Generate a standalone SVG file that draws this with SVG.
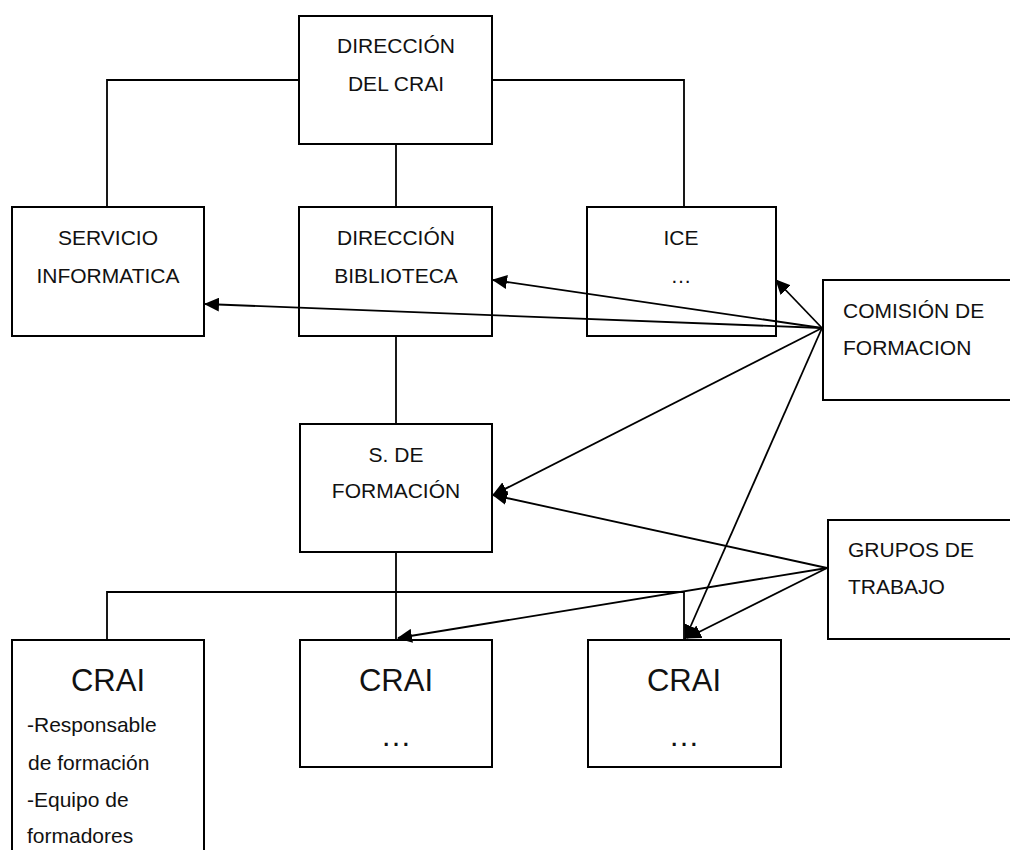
<svg xmlns="http://www.w3.org/2000/svg" width="1010" height="850" viewBox="0 0 1010 850">
<style>
.box{fill:none;stroke:#000;stroke-width:2}
.ln{fill:none;stroke:#000;stroke-width:1.8}
.ar{fill:none;stroke:#000;stroke-width:1.8;marker-end:url(#ah)}
text{font-family:"Liberation Sans",Arial,sans-serif;font-size:21px;fill:#111}
.c{text-anchor:middle}
.big{font-size:31px}
</style>
<defs>
<marker id="ah" viewBox="0 0 15 14" refX="14" refY="7" markerWidth="15" markerHeight="14" markerUnits="userSpaceOnUse" orient="auto">
<path d="M0,0 L15,7 L0,14 Z" fill="#000"/>
</marker>
</defs>
<rect width="1010" height="850" fill="#fff"/>
<g id="connectors">
<polyline class="ln" points="107,207 107,80 299,80"/>
<polyline class="ln" points="492,80 684,80 684,207"/>
<line class="ln" x1="396" y1="144" x2="396" y2="207"/>
<line class="ln" x1="396" y1="336" x2="396" y2="424"/>
<line class="ln" x1="396" y1="552" x2="396" y2="640"/>
<polyline class="ln" points="107,640 107,592 684,592 684,640"/>
<line class="ar" x1="822" y1="328" x2="205" y2="304"/>
<line class="ar" x1="822" y1="328" x2="493" y2="280"/>
<line class="ar" x1="822" y1="328" x2="776" y2="280"/>
<line class="ar" x1="822" y1="328" x2="493" y2="495"/>
<line class="ar" x1="822" y1="328" x2="685" y2="639"/>
<line class="ar" x1="827" y1="568" x2="493" y2="495"/>
<line class="ar" x1="827" y1="568" x2="398" y2="638"/>
<line class="ar" x1="827" y1="568" x2="687" y2="638"/>
</g>
<g id="direccion-crai">
<rect class="box" x="299" y="16" width="193" height="128"/>
<text class="c" x="396" y="53">DIRECCIÓN</text>
<text class="c" x="396" y="91">DEL CRAI</text>
</g>
<g id="servicio-informatica">
<rect class="box" x="12" y="207" width="192" height="129"/>
<text class="c" x="108" y="245">SERVICIO</text>
<text class="c" x="108" y="283">INFORMATICA</text>
</g>
<g id="direccion-biblioteca">
<rect class="box" x="299" y="207" width="193" height="129"/>
<text class="c" x="396" y="245">DIRECCIÓN</text>
<text class="c" x="396" y="283">BIBLIOTECA</text>
</g>
<g id="ice">
<rect class="box" x="587" y="207" width="189" height="129"/>
<text class="c" x="681" y="245">ICE</text>
<text class="c" x="681" y="283">…</text>
</g>
<g id="comision-formacion">
<rect class="box" x="823" y="280" width="200" height="120"/>
<text x="843" y="318">COMISIÓN DE</text>
<text x="843" y="355">FORMACION</text>
</g>
<g id="s-formacion">
<rect class="box" x="300" y="424" width="192" height="128"/>
<text class="c" x="396" y="462">S. DE</text>
<text class="c" x="396" y="498">FORMACIÓN</text>
</g>
<g id="grupos-trabajo">
<rect class="box" x="828" y="520" width="200" height="119"/>
<text x="848" y="557">GRUPOS DE</text>
<text x="848" y="594">TRABAJO</text>
</g>
<g id="crai-1">
<rect class="box" x="12" y="640" width="192" height="220"/>
<text class="c big" x="108" y="691">CRAI</text>
<text x="27" y="732">-Responsable</text>
<text x="28" y="770">de formación</text>
<text x="27" y="807">-Equipo de</text>
<text x="27" y="843">formadores</text>
</g>
<g id="crai-2">
<rect class="box" x="300" y="640" width="192" height="127"/>
<text class="c big" x="396" y="691">CRAI</text>
<text class="c big" x="396" y="746">…</text>
</g>
<g id="crai-3">
<rect class="box" x="588" y="640" width="193" height="127"/>
<text class="c big" x="684" y="691">CRAI</text>
<text class="c big" x="684" y="746">…</text>
</g>
</svg>
